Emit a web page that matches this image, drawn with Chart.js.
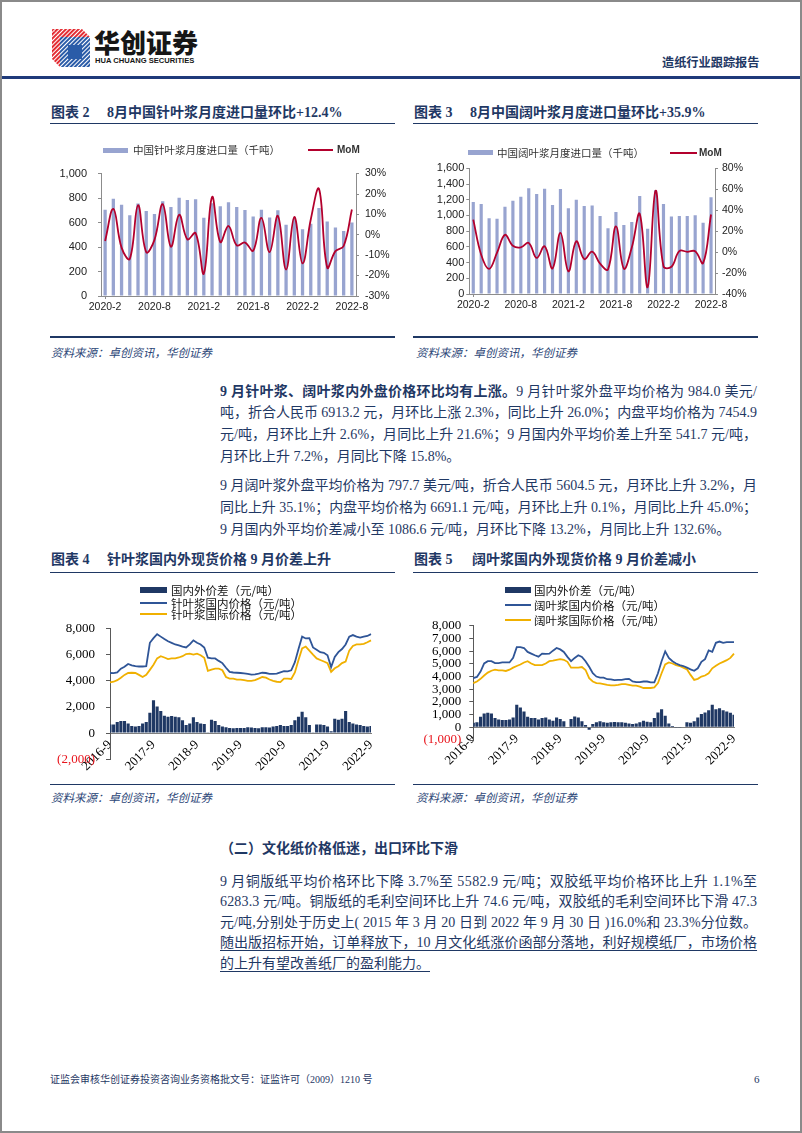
<!DOCTYPE html>
<html lang="zh-CN">
<head>
<meta charset="utf-8">
<title>造纸行业跟踪报告</title>
<script src="https://cdn.jsdelivr.net/npm/chart.js@4.4.1/dist/chart.umd.min.js"></script>
<style>
html,body{margin:0;padding:0;background:#fff;}
#page{position:relative;width:802px;height:1133px;overflow:hidden;background:#fff;
  font-family:"Liberation Serif","Noto Sans CJK SC",serif;color:#1f3864;}
#frame{position:absolute;left:0;top:0;width:802px;height:1133px;box-sizing:border-box;border:2px solid #8a8a8a;pointer-events:none;}
.a{position:absolute;white-space:nowrap;}
.rule{position:absolute;background:#1f3864;}
.ttl{position:absolute;font-size:14px;font-weight:bold;line-height:20px;height:20px;white-space:nowrap;color:#1f3864;}
.src{position:absolute;font-family:"Noto Sans CJK SC",sans-serif;font-size:11.5px;font-style:italic;line-height:16px;white-space:nowrap;color:#2c4677;}
.ln{position:absolute;left:220px;width:560px;height:22px;line-height:22px;font-size:14px;white-space:nowrap;color:#1f3864;}
.ln b{font-weight:bold;}
.ul{text-decoration:underline;text-decoration-color:#1f3864;text-underline-offset:3px;text-decoration-thickness:1px;}
canvas{position:absolute;}
.lg{position:absolute;white-space:nowrap;}
.sw{position:absolute;}
</style>
</head>
<body>
<div id="page">
  <!-- header -->
  <svg class="a" style="left:52px;top:29px" width="38" height="38" viewBox="0 0 38 38">
    <defs>
      <pattern id="pr" width="3" height="3" patternUnits="userSpaceOnUse" patternTransform="rotate(45)"><rect width="1.9" height="3" fill="#e2232a"/></pattern>
      <pattern id="pb" width="3" height="3" patternUnits="userSpaceOnUse" patternTransform="rotate(45)"><rect width="2" height="3" fill="#2a5ca8"/></pattern>
    </defs>
    <polygon points="0,0 30,0 38,8 8,8" fill="url(#pr)"/>
    <polygon points="0,0 8,8 8,38 0,30" fill="url(#pr)"/>
    <rect x="8" y="8" width="30" height="30" fill="url(#pb)"/>
    <rect x="16" y="16" width="14" height="14" fill="#2a5ca8"/>
  </svg>
  <div class="a" style="left:94px;top:26px;font:900 26px/32px 'Noto Sans CJK SC';color:#161616;">华创证券</div>
  <div class="a" style="left:95px;top:56px;font:bold 7.6px/10px 'Liberation Sans';color:#161616;">HUA CHUANG SECURITIES</div>
  <div class="a" style="left:662px;top:54px;font:bold 12.2px/16px 'Noto Sans CJK SC';color:#1f3864;">造纸行业跟踪报告</div>
  <div class="rule" style="left:2px;top:76px;width:798px;height:3px;background:#1f3a7a;"></div>

  <!-- chart titles row 1 -->
  <div class="ttl" style="left:51px;top:103px">图表 2</div>
  <div class="ttl" style="left:107px;top:103px">8月中国针叶浆月度进口量环比+12.4%</div>
  <div class="ttl" style="left:414px;top:103px">图表 3</div>
  <div class="ttl" style="left:470px;top:103px">8月中国阔叶浆月度进口量环比+35.9%</div>
  <div class="rule" style="left:50px;top:122.5px;width:345px;height:1.5px"></div>
  <div class="rule" style="left:413px;top:122.5px;width:345px;height:1.5px"></div>

  <canvas id="c2" width="370" height="162" style="left:40px;top:156px"></canvas>
  <canvas id="c3" width="370" height="162" style="left:410px;top:156px"></canvas>

  <div class="rule" style="left:50px;top:336px;width:345px;height:1.5px"></div>
  <div class="rule" style="left:413px;top:336px;width:345px;height:1.5px"></div>
  <div class="src" style="left:51px;top:344px">资料来源：卓创资讯，华创证券</div>
  <div class="src" style="left:416px;top:344px">资料来源：卓创资讯，华创证券</div>

  <!-- paragraph 1 -->
  <div class="ln j" style="top:380.5px"><span class="in"><b>9 月针叶浆、阔叶浆内外盘价格环比均有上涨。</b>9 月针叶浆外盘平均价格为 984.0 美元/</span></div>
  <div class="ln j" style="top:402.2px"><span class="in">吨，折合人民币 6913.2 元，月环比上涨 2.3%，同比上升 26.0%；内盘平均价格为 7454.9</span></div>
  <div class="ln j" style="top:423.9px"><span class="in">元/吨，月环比上升 2.6%，月同比上升 21.6%；9 月国内外平均价差上升至 541.7 元/吨，</span></div>
  <div class="ln" style="top:445.6px"><span class="in">月环比上升 7.2%，月同比下降 15.8%。</span></div>

  <!-- paragraph 2 -->
  <div class="ln j" style="top:474.5px"><span class="in">9 月阔叶浆外盘平均价格为 797.7 美元/吨，折合人民币 5604.5 元，月环比上升 3.2%，月</span></div>
  <div class="ln j" style="top:496.5px"><span class="in">同比上升 35.1%；内盘平均价格为 6691.1 元/吨，月环比上升 0.1%，月同比上升 45.0%；</span></div>
  <div class="ln" style="top:518.5px"><span class="in">9 月国内外平均价差减小至 1086.6 元/吨，月环比下降 13.2%，月同比上升 132.6%。</span></div>

  <!-- chart titles row 2 -->
  <div class="ttl" style="left:51px;top:550px">图表 4</div>
  <div class="ttl" style="left:107px;top:550px">针叶浆国内外现货价格 9 月价差上升</div>
  <div class="ttl" style="left:414px;top:550px">图表 5</div>
  <div class="ttl" style="left:472px;top:550px">阔叶浆国内外现货价格 9 月价差减小</div>
  <div class="rule" style="left:50px;top:571.5px;width:345px;height:1.5px"></div>
  <div class="rule" style="left:413px;top:571.5px;width:345px;height:1.5px"></div>

  <canvas id="c4" width="370" height="168" style="left:40px;top:610px"></canvas>
  <canvas id="c5" width="370" height="168" style="left:410px;top:610px"></canvas>

  <div class="rule" style="left:50px;top:783.5px;width:345px;height:1.5px"></div>
  <div class="rule" style="left:413px;top:783.5px;width:345px;height:1.5px"></div>
  <div class="src" style="left:51px;top:789px">资料来源：卓创资讯，华创证券</div>
  <div class="src" style="left:416px;top:789px">资料来源：卓创资讯，华创证券</div>

  <!-- section 2 -->
  <div class="ln" style="top:838px;font-weight:bold;">（二）文化纸价格低迷，出口环比下滑</div>
  <div class="ln j" style="top:870.5px"><span class="in">9 月铜版纸平均价格环比下降 3.7%至 5582.9 元/吨；双胶纸平均价格环比上升 1.1%至</span></div>
  <div class="ln j" style="top:891.1px"><span class="in">6283.3 元/吨。铜版纸的毛利空间环比上升 74.6 元/吨，双胶纸的毛利空间环比下滑 47.3</span></div>
  <div class="ln j" style="top:911.7px"><span class="in">元/吨,分别处于历史上( 2015 年 3 月 20 日到 2022 年 9 月 30 日 )16.0%和 23.3%分位数。</span></div>
  <div class="ln j" style="top:932.3px"><span class="in ul">随出版招标开始，订单释放下，10 月文化纸涨价函部分落地，利好规模纸厂，市场价格</span></div>
  <div class="ln" style="top:952.9px"><span class="in ul">的上升有望改善纸厂的盈利能力。</span></div>

  <!-- footer -->
  <div class="a" style="left:50px;top:1074px;font:10px/12px 'Liberation Serif','Noto Sans CJK SC';color:#1f3864;">证监会审核华创证券投资咨询业务资格批文号：证监许可（2009）1210 号</div>
  <div class="a" style="left:754px;top:1073px;font:11px/13px 'Liberation Serif';color:#1f3864;">6</div>

  <div id="frame"></div>
</div>

<script>
// ---------------- data ----------------
const importMonths = ['2020-2','2020-3','2020-4','2020-5','2020-6','2020-7','2020-8','2020-9','2020-10','2020-11','2020-12',
  '2021-1','2021-2','2021-3','2021-4','2021-5','2021-6','2021-7','2021-8','2021-9','2021-10','2021-11','2021-12',
  '2022-1','2022-2','2022-3','2022-4','2022-5','2022-6','2022-7','2022-8'];
const importTickLabels = ['2020-2','2020-8','2021-2','2021-8','2022-2','2022-8'];

const softImportLabel = '中国针叶浆月度进口量（千吨）';
const hardImportLabel = '中国阔叶浆月度进口量（千吨）';
const momLabel = 'MoM';

const softImports = [705, 795, 745, 660, 755, 695, 670, 775, 728, 803, 785, 790, 640, 757, 733, 765, 728, 703, 650, 705, 642, 700, 583, 630, 545, 590, 718, 608, 560, 532, 600];
const softMoM = [-3, 12.7, -6.3, -11.8, 14.5, -8.5, -2.5, 15, -5.8, 9.8, -2.2, 0.8, -19, 18.5, -3.5, 4.3, -5.2, -3.8, -7.8, 8.3, -8.5, 9.3, -17, 8.7, -14, 7.5, 22.5, -16, -8, -5.5, 12.4];

const hardImports = [1170, 1146, 963, 959, 1112, 1188, 1239, 1345, 1273, 1341, 1133, 1337, 1091, 1201, 1120, 1125, 993, 836, 1044, 879, 917, 1248, 832, 1320, 1146, 985, 993, 993, 1002, 908, 1231];
const hardMoM = [31, -2.5, -16, -0.5, 16.5, 6, 4.5, 8.8, -5.6, 5.5, -15.6, 18.3, -18.4, 10.3, -6.7, 0.4, -11, -16.5, 24.5, -15.8, 4.3, 36.5, -33.5, 58.5, -13.5, -14, 1, 0.3, 0.8, -10.5, 35.9];

const priceMonths = ['2016-9','2016-10','2016-11','2016-12',
  '2017-1','2017-2','2017-3','2017-4','2017-5','2017-6','2017-7','2017-8','2017-9','2017-10','2017-11','2017-12',
  '2018-1','2018-2','2018-3','2018-4','2018-5','2018-6','2018-7','2018-8','2018-9','2018-10','2018-11','2018-12',
  '2019-1','2019-2','2019-3','2019-4','2019-5','2019-6','2019-7','2019-8','2019-9','2019-10','2019-11','2019-12',
  '2020-1','2020-2','2020-3','2020-4','2020-5','2020-6','2020-7','2020-8','2020-9','2020-10','2020-11','2020-12',
  '2021-1','2021-2','2021-3','2021-4','2021-5','2021-6','2021-7','2021-8','2021-9','2021-10','2021-11','2021-12',
  '2022-1','2022-2','2022-3','2022-4','2022-5','2022-6','2022-7','2022-8','2022-9'];
const priceTickLabels = ['2016-9','2017-9','2018-9','2019-9','2020-9','2021-9','2022-9'];

const spreadLabel = '国内外价差（元/吨）';
const softDomLabel = '针叶浆国内价格（元/吨）';
const softIntlLabel = '针叶浆国际价格（元/吨）';
const hardDomLabel = '阔叶浆国内价格（元/吨）';
const hardIntlLabel = '阔叶浆国际价格（元/吨）';

const softDomestic = [4610, 4600, 4650, 4940, 5090, 5300, 5200, 5130, 5110, 5110, 5130, 6925,
  7280, 7590, 7400, 7210, 7045, 6925, 6800, 6735, 6640, 6570, 6800, 7115,
  6925, 6800, 6570, 5780, 5730, 5730, 5540, 5370, 5015, 4700, 4650, 4630,
  4610, 4585, 4540, 4490, 4510, 4560, 4630, 4610, 4540, 4540, 4560, 4660,
  4750, 4730, 4820, 5445, 6450, 7400, 7260, 7285, 6570, 6400, 6210, 6160,
  5970, 5060, 5850, 6210, 6450, 6800, 7400, 7520, 7400, 7330, 7400, 7450,
  7590];
const softInternational = [3890, 3940, 4060, 4250, 4465, 4610, 4630, 4610, 4465, 4300, 4465, 4850,
  5250, 5730, 5900, 5800, 5680, 5730, 5730, 5800, 5900, 6065, 6090, 6020,
  6090, 5970, 5780, 4775, 4870, 4940, 4940, 4820, 4300, 4180, 4180, 4110,
  4110, 4060, 4010, 4010, 4060, 4180, 4300, 4250, 4110, 4010, 3940, 3915,
  4180, 4180, 4155, 4650, 5610, 6500, 6640, 6330, 6020, 5730, 5610, 5490,
  5370, 4700, 4970, 5130, 5370, 5490, 6330, 6690, 6800, 6800, 6850, 6970,
  7115];
const softSpread = [670, 670, 860, 930, 930, 740, 550, 500, 550, 740, 860, 1570,
  2520, 2050, 1690, 1330, 1260, 1310, 1260, 1210, 980, 620, 740, 1210,
  860, 740, 690, 70, 1020, 930, 620, 500, 450, 400, 380, 400,
  400, 400, 450, 430, 400, 380, 450, 450, 430, 500, 550, 620,
  550, 550, 620, 980, 1260, 1640, 1210, 620, 70, 670, 670, 620,
  500, 140, 1100, 1020, 1100, 1690, 860, 740, 670, 620, 550, 500,
  550];

const hardDomestic = [3870, 3970, 4390, 5030, 5210, 5210, 5060, 5060, 5110, 5110, 5110, 5470,
  6320, 6320, 6250, 5940, 5810, 5680, 5570, 5810, 5780, 5810, 6040, 6250,
  6140, 5940, 5550, 5210, 5470, 5680, 5550, 5210, 4770, 4260, 4000, 3920,
  3920, 3790, 3770, 3720, 3740, 3740, 3790, 3820, 3610, 3560, 3560, 3610,
  3610, 3540, 3540, 4260, 5210, 5990, 5470, 5210, 5030, 4900, 4830, 4700,
  4570, 4460, 4650, 5160, 5370, 6060, 5940, 6660, 6760, 6660, 6710, 6710,
  6710];
const hardInternational = [3480, 3610, 3820, 4080, 4310, 4460, 4540, 4490, 4490, 4440, 4540, 4700,
  4830, 4950, 5110, 5210, 5030, 4900, 4900, 4900, 5030, 5210, 5260, 5320,
  5370, 5320, 5160, 4700, 4700, 4700, 4750, 4520, 3870, 3610, 3480, 3460,
  3410, 3350, 3300, 3300, 3350, 3410, 3410, 3350, 3280, 3280, 3200, 3100,
  3100, 3100, 3150, 3480, 4260, 4950, 5110, 5030, 4900, 4830, 4700, 4570,
  4130, 3740, 3820, 4000, 4080, 4260, 4650, 4850, 5030, 5160, 5290, 5470,
  5810];
const hardSpread = [360, 390, 830, 1090, 1140, 1090, 730, 620, 570, 570, 620, 780,
  1770, 1560, 1250, 830, 730, 730, 620, 730, 780, 620, 520, 780,
  650, 470, 50, 650, 860, 780, 470, 180, -200, 260, 390, 470,
  390, 360, 390, 420, 390, 390, 360, 310, 260, 310, 390, 520,
  440, 390, 730, 1170, 1430, 910, 310, 100, -50, -50, 0, 390,
  360, 470, 780, 1040, 1170, 1350, 1770, 1430, 1510, 1350, 1250, 1140,
  990];

// ---------------- helpers ----------------
Chart.defaults.font.family = "'Liberation Sans','Noto Sans CJK SC',sans-serif";
Chart.defaults.color = '#222';
Chart.defaults.animation = false;

const fmtNum = v => Math.abs(v).toLocaleString('en-US');
const fmtParen = v => (v < 0 ? '(' + fmtNum(v) + ')' : fmtNum(v));

function importChart(id, barLabel, values, mom, cfg) {
  const labels = importMonths;
  const show = i => importTickLabels.includes(labels[i]);
  return new Chart(document.getElementById(id), {
    type: 'bar',
    data: {
      labels,
      datasets: [
        { type: 'line', label: momLabel, data: mom, yAxisID: 'yR', borderColor: '#b3002d', borderWidth: 1.8,
          pointRadius: 0, tension: 0.4, order: 0 },
        { type: 'bar', label: barLabel, data: values, yAxisID: 'y', backgroundColor: '#98a4d0',
          barPercentage: 0.4, categoryPercentage: 1, order: 1 }
      ]
    },
    options: {
      responsive: false, animation: false, events: [],
      layout: { padding: { top: cfg.top, left: 0, right: 0, bottom: 0 } },
      plugins: { legend: { display: false }, tooltip: { enabled: false } },
      scales: {
        x: {
          offset: true,
          grid: { offset: false, drawOnChartArea: false, tickLength: 3,
                  color: c => (show(c.index) ? '#8c8c8c' : 'rgba(0,0,0,0)') },
          border: { color: '#8c8c8c' },
          ticks: { autoSkip: false, minRotation: 0, maxRotation: 0, padding: 2, font: { size: 10.5 }, color: '#222',
                   callback: (v, i) => (show(i) ? labels[i] : null) },
          afterFit: s => { s.height = cfg.xh; }
        },
        y: {
          position: 'left', min: 0, max: cfg.ymax,
          ticks: { stepSize: cfg.ystep, autoSkip: false, padding: cfg.lpad, font: { size: 11 }, color: '#222', callback: v => fmtNum(v) },
          grid: { drawOnChartArea: false, tickLength: 3, color: '#8c8c8c' },
          border: { color: '#8c8c8c' },
          afterFit: s => { s.width = cfg.lw; }
        },
        yR: {
          position: 'right', min: cfg.rmin, max: cfg.rmax,
          ticks: { stepSize: cfg.rstep, autoSkip: false, padding: cfg.rpad, font: { size: 10.5 }, color: '#222', callback: v => v + '%' },
          grid: { drawOnChartArea: false, tickLength: 3, color: '#8c8c8c' },
          border: { color: '#8c8c8c' },
          afterFit: s => { s.width = cfg.rw; }
        }
      }
    }
  });
}

function priceChart(id, domLabel, intlLabel, spread, dom, intl, cfg) {
  const labels = priceMonths;
  const show = i => priceTickLabels.includes(labels[i]);
  return new Chart(document.getElementById(id), {
    type: 'bar',
    data: {
      labels,
      datasets: [
        { type: 'line', label: domLabel, data: dom, borderColor: '#2f5597', borderWidth: 1.8, pointRadius: 0, tension: 0, order: 0 },
        { type: 'line', label: intlLabel, data: intl, borderColor: '#f0b000', borderWidth: 1.8, pointRadius: 0, tension: 0, order: 1 },
        { type: 'bar', label: spreadLabel, data: spread, backgroundColor: '#1f3864', barPercentage: 0.86, categoryPercentage: 1, order: 2 }
      ]
    },
    options: {
      responsive: false, animation: false, events: [],
      layout: { padding: { top: cfg.top, left: 0, right: cfg.right, bottom: cfg.bottom } },
      plugins: { legend: { display: false }, tooltip: { enabled: false } },
      scales: {
        x: {
          position: { y: 0 }, offset: false,
          grid: { offset: false, drawOnChartArea: false, tickLength: 4,
                  color: c => (show(c.index) ? '#7f7f7f' : 'rgba(0,0,0,0)') },
          border: { color: '#7f7f7f' },
          ticks: { autoSkip: false, minRotation: 45, maxRotation: 45, padding: 0,
                   font: { family: "'Liberation Serif'", size: 13 }, color: '#000',
                   callback: (v, i) => (show(i) ? labels[i] : null) },
          afterFit: s => { s.height = 0; }
        },
        y: {
          min: cfg.ymin, max: 8000,
          ticks: { stepSize: cfg.ystep, autoSkip: false, padding: cfg.lpad,
                   font: { family: "'Liberation Serif'", size: 13 },
                   color: c => (c.tick && c.tick.value < 0 ? '#e8141c' : '#000'),
                   callback: fmtParen },
          grid: { drawOnChartArea: false, tickLength: 4, color: '#595959' },
          border: { color: '#595959' },
          afterFit: s => { s.width = cfg.lw; }
        }
      }
    }
  });
}

function addLegend(chart, items) {
  const page = document.getElementById('page');
  items.forEach(it => {
    const ds = chart.data.datasets[it.ds];
    const sw = document.createElement('div');
    sw.className = 'sw';
    sw.style.left = it.x + 'px';
    sw.style.top = (it.y - it.h / 2) + 'px';
    sw.style.width = it.w + 'px';
    sw.style.height = it.h + 'px';
    sw.style.background = ds.type === 'bar' ? ds.backgroundColor : ds.borderColor;
    page.appendChild(sw);
    const t = document.createElement('div');
    t.className = 'lg';
    t.textContent = ds.label;
    t.style.font = it.font;
    t.style.lineHeight = it.lh + 'px';
    t.style.left = it.tx + 'px';
    t.style.top = (it.y - it.lh / 2) + 'px';
    t.style.color = it.color;
    page.appendChild(t);
  });
}

// ---------------- charts ----------------
const c2 = importChart('c2', softImportLabel, softImports, softMoM,
  { top: 9, xh: 22, lw: 61, rw: 54, lpad: 11, rpad: 6, ymax: 1000, ystep: 200, rmin: -30, rmax: 30, rstep: 10 });
const c3 = importChart('c3', hardImportLabel, hardImports, hardMoM,
  { top: 12.3, xh: 24, lw: 59.3, rw: 65, lpad: 2, rpad: 4, ymax: 1600, ystep: 200, rmin: -40, rmax: 80, rstep: 20 });
const c4 = priceChart('c4', softDomLabel, softIntlLabel, softSpread, softDomestic, softInternational,
  { top: 11.7, right: 39, bottom: 17, lw: 70, lpad: 11, ymin: -2000, ystep: 2000 });
const c5 = priceChart('c5', hardDomLabel, hardIntlLabel, hardSpread, hardDomestic, hardInternational,
  { top: 13.3, right: 46, bottom: 38, lw: 63.3, lpad: 8, ymin: -1000, ystep: 1000 });

const cjkSmall = "10.5px 'Noto Sans CJK SC'";
const momFont = "bold 10px 'Liberation Sans'";
const cjkLeg = "11.5px 'Noto Sans CJK SC'";
addLegend(c2, [
  { ds: 1, x: 103, y: 150, w: 25, h: 5, tx: 133, font: cjkSmall, lh: 14, color: '#333' },
  { ds: 0, x: 308, y: 150, w: 25, h: 2, tx: 337, font: momFont, lh: 14, color: '#333' }
]);
addLegend(c3, [
  { ds: 1, x: 468, y: 152.5, w: 25, h: 5, tx: 497, font: cjkSmall, lh: 14, color: '#333' },
  { ds: 0, x: 670, y: 152.5, w: 27, h: 2, tx: 699, font: momFont, lh: 14, color: '#333' }
]);
addLegend(c4, [
  { ds: 2, x: 140, y: 590, w: 27, h: 6, tx: 171, font: cjkLeg, lh: 14, color: '#111' },
  { ds: 0, x: 140, y: 602.5, w: 27, h: 2, tx: 171, font: cjkLeg, lh: 14, color: '#111' },
  { ds: 1, x: 140, y: 614, w: 27, h: 2, tx: 171, font: cjkLeg, lh: 14, color: '#111' }
]);
addLegend(c5, [
  { ds: 2, x: 505, y: 589.5, w: 26, h: 6, tx: 534, font: cjkLeg, lh: 14, color: '#111' },
  { ds: 0, x: 505, y: 604.5, w: 26, h: 2, tx: 534, font: cjkLeg, lh: 14, color: '#111' },
  { ds: 1, x: 505, y: 619.5, w: 26, h: 2, tx: 534, font: cjkLeg, lh: 14, color: '#111' }
]);

// ---------------- justify text lines to the column width ----------------
function justifyLines() {
  const target = 537;
  document.querySelectorAll('.ln').forEach(el => {
    const inner = el.querySelector('.in');
    if (!inner) return;
    el.style.letterSpacing = '0px';
    const natural = inner.getBoundingClientRect().width;
    const n = Array.from(inner.textContent).length;
    if (el.classList.contains('j')) {
      el.style.letterSpacing = ((target - natural) / (n - 1)) + 'px';
    } else if (natural > target) {
      el.style.letterSpacing = ((target - natural) / n) + 'px';
    }
  });
}
justifyLines();
if (document.fonts && document.fonts.ready) document.fonts.ready.then(justifyLines);
</script>
</body>
</html>
